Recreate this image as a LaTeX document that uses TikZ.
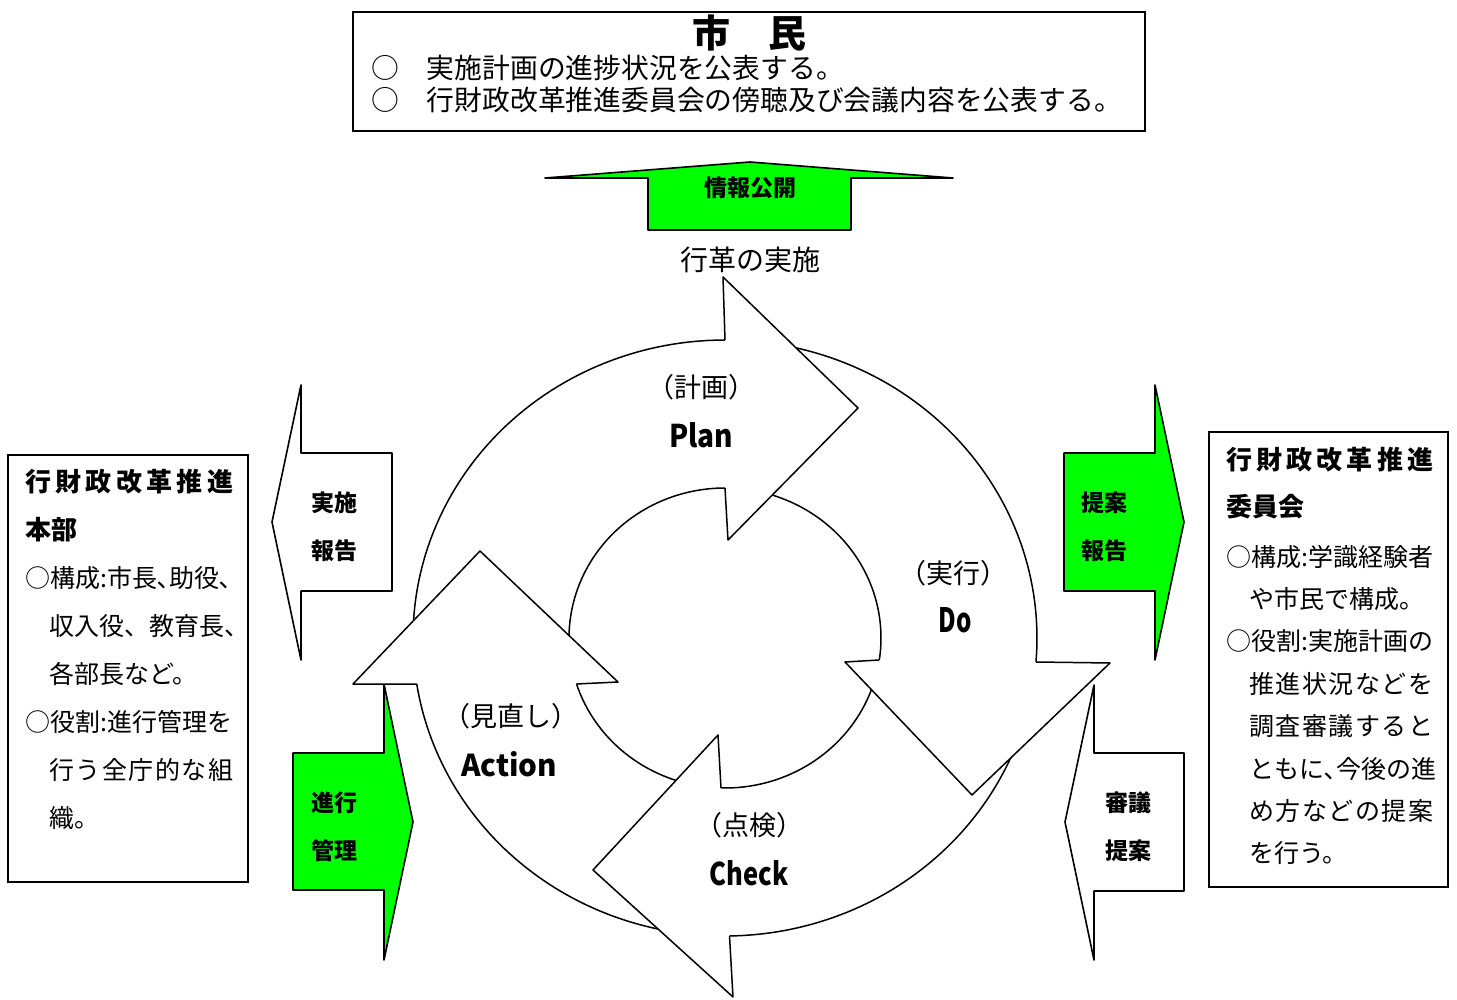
\documentclass[tikz,border=0pt]{standalone}
\usepackage{fontspec}
\setmainfont{Noto Sans CJK JP}
\usepackage{graphicx}
\definecolor{kgreen}{RGB}{0,255,0}
\def\spr#1#2\relax{#1\ifx\relax#2\relax\else\hfil\spr#2\relax\fi}
\newcommand\sline[2]{\makebox[#1][s]{\spr#2\relax}}
\newcommand\fs[1]{\fontsize{#1}{#1}\selectfont}
\newcommand\ringbody[4]{%
  \fill[white] plot[domain=#1:#2,samples=60,variable=\t] ({725+312*cos(\t)},{638+298*sin(\t)})
     -- plot[domain=#4:#3,samples=60,variable=\t] ({725+156*cos(\t)},{638+150*sin(\t)}) -- cycle;
  \draw[ringline] plot[domain=#1:#2,samples=60,variable=\t] ({725+312*cos(\t)},{638+298*sin(\t)});
  \draw[ringline] plot[domain=#3:#4,samples=60,variable=\t] ({725+156*cos(\t)},{638+150*sin(\t)});
}
\newcommand\ringhead[5]{%
  \fill[white] #1 -- #2 -- #3 -- #4 -- #5 -- cycle;
  \draw[headline] #1 -- #2 -- #3 -- #4 -- #5;
}
\begin{document}
\begin{tikzpicture}[x=1pt,y=-1pt,
  boxframe/.style={draw=black,line width=1.8pt,fill=white},
  sidearrow/.style={draw=black,line width=1.6pt,line join=round},
  ringline/.style={draw=black,line width=1.5pt},
  headline/.style={draw=black,line width=1.5pt,line join=round},
  txt/.style={inner sep=0pt,anchor=west,font=\fs{25}},
  hdg/.style={inner sep=0pt,anchor=west,font=\fs{26}\bfseries},
  arwtxt/.style={inner sep=0pt,font=\fs{23}\bfseries},
  cyc/.style={inner sep=0pt,font=\fs{27}},
  latin/.style={inner sep=0pt,font=\fs{30}\bfseries},
]
\useasboundingbox (0,0) rectangle (1457,1000);
\fill[white] (0,0) rectangle (1457,1000);

% ---- top box (citizens)
\draw[boxframe] (353,12) rectangle (1145,131);
\node[inner sep=0pt,font=\fs{38}\bfseries] (shimin) at (749,33) {市　民};
\node[inner sep=0pt,anchor=west,font=\fs{27.8}] (top1) at (371,68) {○　実施計画の進捗状況を公表する。};
\node[inner sep=0pt,anchor=west,font=\fs{27.8}] (top2) at (371,100) {○　行財政改革推進委員会の傍聴及び会議内容を公表する。};

% ---- information disclosure arrow
\draw[sidearrow,fill=kgreen] (648,230) -- (648,178) -- (545,178) -- (750,162) -- (953,178) -- (851,178) -- (851,230) -- cycle;
\node[arwtxt] (joho) at (750,188) {情報公開};
\node[inner sep=0pt,font=\fs{28}] (gyokaku) at (750,260) {行革の実施};

% ---- side arrows
\draw[sidearrow,fill=white] (392,453) -- (301,453) -- (301,385) -- (272,522) -- (301,660) -- (301,591) -- (392,591) -- cycle;
\node[arwtxt] (jisshi) at (334,503) {実施};
\node[arwtxt] (hokoku1) at (334,551) {報告};

\draw[sidearrow,fill=kgreen] (1064,453) -- (1155,453) -- (1155,385) -- (1184,522) -- (1155,660) -- (1155,591) -- (1064,591) -- cycle;
\node[arwtxt] (teian1) at (1104,503) {提案};
\node[arwtxt] (hokoku2) at (1104,551) {報告};

\draw[sidearrow,fill=kgreen] (293,753) -- (384,753) -- (384,684) -- (413,822) -- (384,960) -- (384,890) -- (293,890) -- cycle;
\node[arwtxt] (shinko) at (334,803) {進行};
\node[arwtxt] (kanri) at (334,851) {管理};

\draw[sidearrow,fill=white] (1184,753) -- (1094,753) -- (1094,685) -- (1065,822) -- (1094,960) -- (1094,891) -- (1184,891) -- cycle;
\node[arwtxt] (shingi) at (1128,803) {審議};
\node[arwtxt] (teian2) at (1128,851) {提案};

% ---- left box
\draw[boxframe] (8,455) rectangle (248,882);
\node[hdg] (l1) at (25,482) {\sline{208pt}{行財政改革推進}};
\node[hdg] (l2) at (25,530) {本部};
\node[txt] (l3) at (25,578) {○構成:市長､助役､};
\node[txt] (l4) at (49,626) {収入役、教育長、};
\node[txt] (l5) at (49,674) {各部長など。};
\node[txt] (l6) at (25,722) {○役割:進行管理を};
\node[txt] (l7) at (49,770) {\sline{184pt}{行う全庁的な組}};
\node[txt] (l8) at (49,818) {織。};

% ---- right box
\draw[boxframe] (1209,432) rectangle (1448,887);
\node[hdg] (r1) at (1226,460) {\sline{207pt}{行財政改革推進}};
\node[hdg] (r2) at (1226,507) {委員会};
\node[txt] (r3) at (1226,557) {○構成:学識経験者};
\node[txt] (r4) at (1249,599) {や市民で構成。};
\node[txt] (r5) at (1226,641) {○役割:実施計画の};
\node[txt] (r6) at (1249,684) {\sline{184pt}{推進状況などを}};
\node[txt] (r7) at (1249,726) {\sline{184pt}{調査審議すると}};
\node[txt] (r8) at (1249,769) {ともに､今後の進};
\node[txt] (r9) at (1249,811) {\sline{184pt}{め方などの提案}};
\node[txt] (r10) at (1249,853) {を行う。};

% ---- PDCA ring: bodies
\ringbody{175}{270}{175}{270}
\ringbody{-82}{4.6}{-82}{8.4}
\ringbody{12}{89.2}{12}{91.5}
\ringbody{100}{171.1}{100}{162.1}
% ---- heads
\ringhead{(725,340)}{(723,277)}{(858,408)}{(728,540)}{(725,488)}
\ringhead{(1036,662)}{(1110,663)}{(972,795)}{(845,662)}{(879,660)}
\ringhead{(729.5,936)}{(733,997)}{(593,870)}{(718,735)}{(721,788)}
\ringhead{(417,684)}{(353,684)}{(480,551)}{(618,682)}{(576.5,684)}

% ---- labels
\node[cyc] (keikaku) at (701,387) {（計画）};
\node[latin] (plan) at (701,435) {\resizebox{64pt}{25pt}{Plan}};
\node[cyc] (jikko) at (953,573) {（実行）};
\node[latin] (do) at (955,620) {\resizebox{33pt}{25pt}{Do}};
\node[cyc] (minaoshi) at (511,716) {（見直し）};
\node[latin] (action) at (509,764) {\resizebox{96pt}{25pt}{Action}};
\node[cyc] (tenken) at (749,825) {（点検）};
\node[latin] (check) at (749,873) {\resizebox{79pt}{25pt}{Check}};
\end{tikzpicture}
\end{document}
